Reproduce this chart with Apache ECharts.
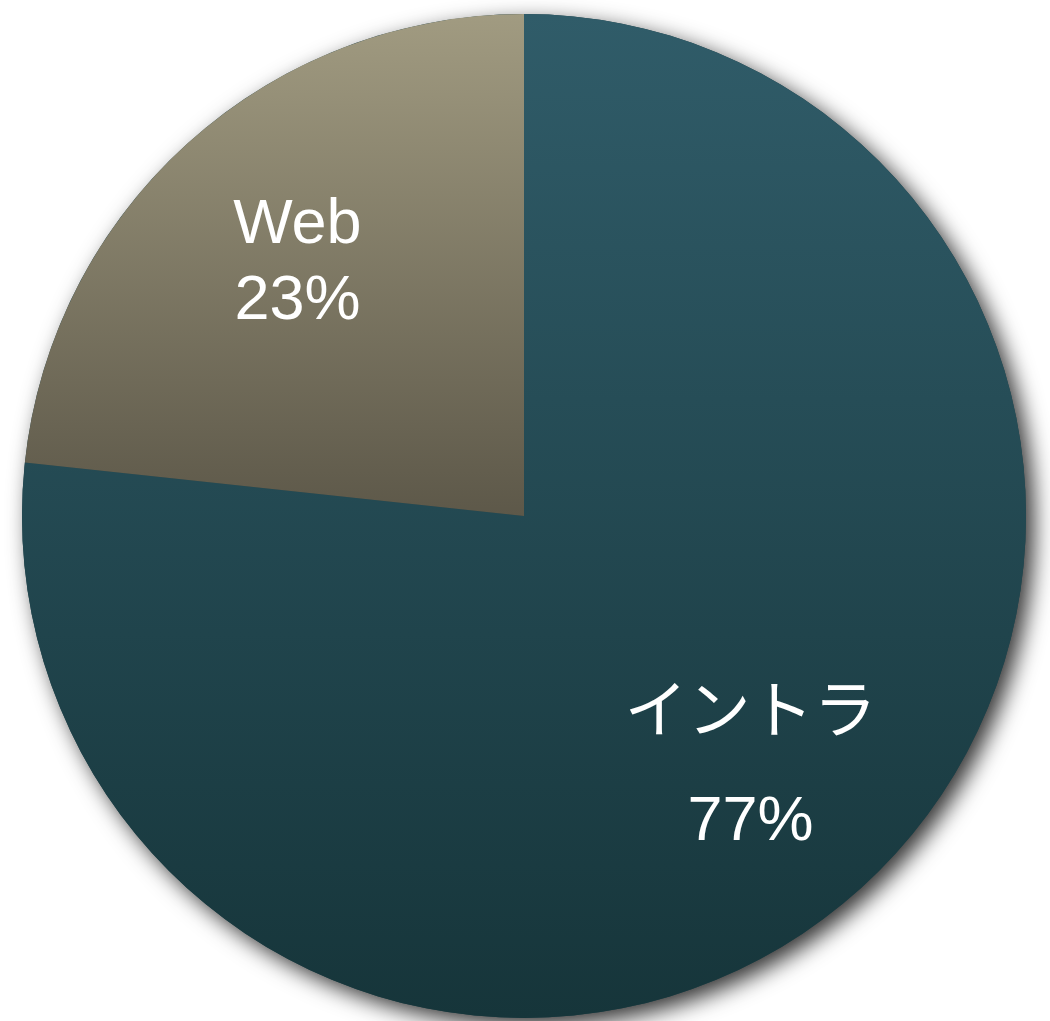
<!DOCTYPE html>
<html>
<head>
<meta charset="utf-8">
<script src="https://cdn.jsdelivr.net/npm/echarts@6/dist/echarts.min.js"></script>
<style>
html,body{margin:0;padding:0;background:#ffffff;}
#chart{width:1050px;height:1021px;}
</style>
</head>
<body>
<div id="chart"></div>
<script>
const categories = ['イントラ', 'Web'];
const values = [76.7, 23.3];

const gradients = [
  ['#305c69', '#16353a'],
  ['#a19b81', '#5d5849']
];
const lineHeights = [108, 76];

const chart = echarts.init(document.getElementById('chart'), null, {renderer: 'canvas'});
const center = [524, 516];
const R = 502;
const total = values.reduce((a, b) => a + b, 0);

chart.setOption({
  animation: false,
  backgroundColor: '#ffffff',
  series: [
    {
      type: 'pie',
      center: center,
      radius: [0, R],
      silent: true,
      z: 1,
      label: {show: false},
      labelLine: {show: false},
      itemStyle: {
        color: '#1f4048',
        shadowBlur: 22,
        shadowOffsetX: 8,
        shadowOffsetY: 8,
        shadowColor: 'rgba(0,0,0,0.8)'
      },
      data: [{name: 'shadow', value: total}]
    },
    {
      type: 'pie',
      center: center,
      radius: [0, R],
      startAngle: 90,
      clockwise: true,
      silent: true,
      z: 2,
      label: {show: false},
      labelLine: {show: false},
      data: categories.map((c, i) => ({
        name: c,
        value: values[i],
        itemStyle: {
          color: new echarts.graphic.LinearGradient(0, 0, 0, 1, [
            {offset: 0, color: gradients[i][0]},
            {offset: 1, color: gradients[i][1]}
          ]),
          borderWidth: 0
        }
      }))
    },
    {
      type: 'pie',
      center: center,
      radius: [170, R],
      startAngle: 90,
      clockwise: true,
      silent: true,
      percentPrecision: 0,
      z: 3,
      itemStyle: {color: 'rgba(0,0,0,0)'},
      labelLine: {show: false},
      data: categories.map((c, i) => ({
        name: c,
        value: values[i],
        label: {
          show: true,
          position: 'inside',
          formatter: '{b}\n{d}%',
          color: '#ffffff',
          fontSize: 63,
          lineHeight: lineHeights[i],
          fontFamily: '"Liberation Sans", "Noto Sans CJK JP", sans-serif',
          align: 'center'
        }
      }))
    }
  ]
});
</script>
</body>
</html>
